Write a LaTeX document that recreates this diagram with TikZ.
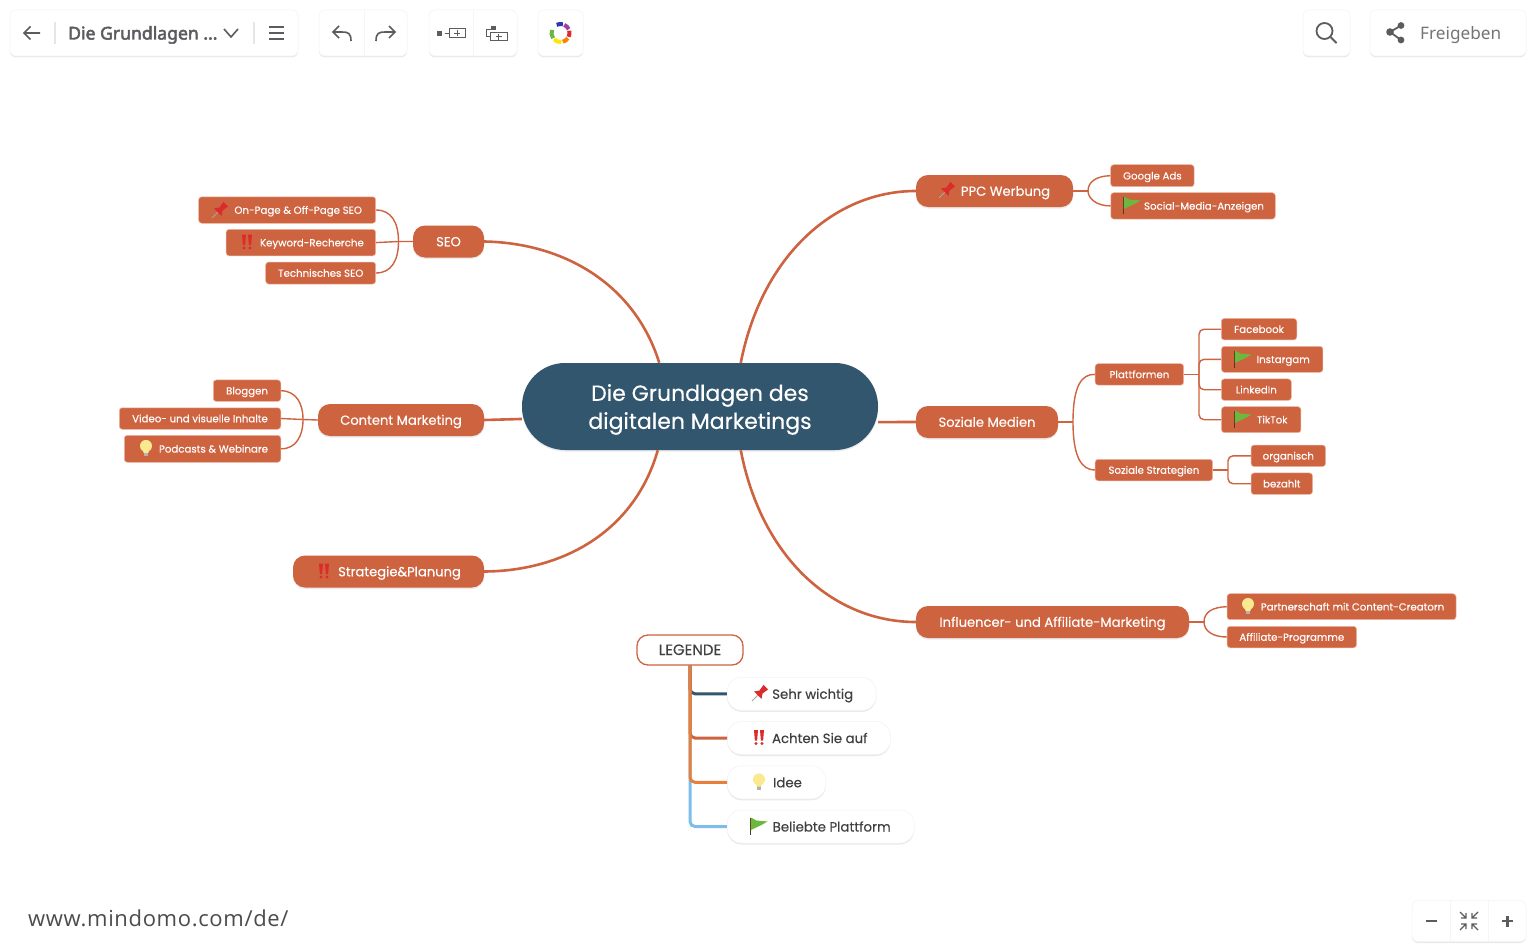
\documentclass[tikz,border=0pt]{standalone}
\usepackage{fontspec}
\usepackage{tikz}
\usetikzlibrary{shadows}
\setmainfont{Poppins}[FakeBold=0.25]
\newfontfamily\uifont{Noto Sans}
\newfontfamily\uibold{Noto Sans}[FakeBold=2.8]
\newfontfamily\urlfont{Open Sans}[LetterSpace=3]
\definecolor{hubblue}{HTML}{33566F}
\definecolor{brick}{HTML}{CE6340}
\definecolor{brickedge}{HTML}{EDB8A4}
\definecolor{legorange}{HTML}{E67F3E}
\definecolor{legblue}{HTML}{7CBDEB}
\definecolor{uigray}{HTML}{5C5C60}
\definecolor{uiline}{HTML}{E6E6E6}
\definecolor{pinred}{HTML}{DB2B2B}
\definecolor{bulbyellow}{HTML}{FBE98F}
\definecolor{flaggreen}{HTML}{6DB73F}
\newcommand{\iconsp}{\hspace*{22pt}}
\tikzset{
  softshadow/.style={drop shadow={opacity=.16, shadow xshift=0pt, shadow yshift=-1.5pt}},
  hub/.style={fill=hubblue, text=white, rounded corners=43pt, softshadow, align=center, text depth=0pt,
    minimum width=356pt, minimum height=87pt, inner sep=0pt, font=\fontsize{22}{28}\selectfont},
  topic/.style={fill=brick, text=white, rounded corners=12pt, softshadow, inner sep=0pt, text height=9.5pt, text depth=0pt,
    minimum height=32pt, font=\fontsize{13.1}{15}\selectfont},
  leaf/.style={fill=brick, draw=brickedge, line width=.5pt, text=white, rounded corners=3pt, text height=7.5pt, text depth=0pt,
    inner sep=0pt, font=\fontsize{10.2}{12}\selectfont},
  legendhead/.style={fill=white, draw=brick, line width=1.3pt, text=black!75, rounded corners=11pt, text height=10pt, text depth=0pt,
    inner sep=0pt, minimum width=106pt, minimum height=30pt, font=\fontsize{15}{17}\selectfont},
  legenditem/.style={fill=white, draw=black!5, line width=.5pt, text=black!75, rounded corners=14pt, softshadow, inner sep=0pt,
    text height=10pt, text depth=0pt, minimum height=33pt, font=\fontsize{13.3}{15}\selectfont},
  uibox/.style={fill=white, draw=black!5, line width=.5pt, rounded corners=6pt, inner sep=0pt, softshadow},
  mainline/.style={draw=brick, line width=2.6pt},
  subline/.style={draw=brick, line width=1.4pt},
  uistroke/.style={draw=uigray, line width=1.6pt},
  pinicon/.pic={
    \draw [gray!70, line width=.8pt] (-8,8) -- (-1,1);
    \fill [pinred] (-6,-1.5) -- (-.5,-2.5) -- (2,-6) -- (3.5,-8) -- (8,-3.5) -- (6,-2)
      -- (2.5,.5) -- (1.5,6) -- cycle;
  },
  bangicon/.pic={
    \fill [pinred] (-5,-7.5) -- (-1,-7.5) -- (-1.9,3.2) -- (-4.1,3.2) -- cycle;
    \fill [pinred] (-3,6) circle [radius = 1.6];
    \fill [pinred] (1,-7.5) -- (5,-7.5) -- (4.1,3.2) -- (1.9,3.2) -- cycle;
    \fill [pinred] (3,6) circle [radius = 1.6];
  },
  bulbicon/.pic={
    \fill [gray!60] (-2.3,3) rectangle (2.3,7.5);
    \fill [bulbyellow] (0,-2.6) circle [radius = 6];
    \fill [bulbyellow] (-3.5,1) -- (3.5,1) -- (2.3,4.5) -- (-2.3,4.5) -- cycle;
  },
  flagicon/.pic={
    \draw [black!55!brown, line width=.8pt] (-8,-8.5) -- (-8,8.5);
    \fill [flaggreen] (-7.6,-8.5) -- (-2,-5.5) -- (9,-4.5) -- (3,-1) -- (-7.6,4) -- cycle;
  }
}
\begin{document}
\begin{tikzpicture}[x=1pt,y=-1pt]
\useasboundingbox [fill=white] (0,0) rectangle (1536,950);

\node [hub] (center) at (700,406.5) {Die Grundlagen des\\digitalen Marketings};

\node [topic, minimum width=71pt] (seo) at (448.5,241.5) {SEO};
\node [topic, minimum width=166pt] (content) at (401,420) {Content Marketing};
\node [topic, minimum width=191pt] (strategie) at (388.5,571.5) {\iconsp Strategie\&Planung};
\node [topic, minimum width=157pt] (ppc) at (994.5,191) {\iconsp PPC Werbung};
\node [topic, minimum width=142pt] (sozial) at (987,422) {Soziale Medien};
\node [topic, minimum width=273pt] (influencer) at (1052.5,622) {Influencer- und Affiliate-Marketing};

\node [leaf, minimum width=177pt, minimum height=26.5pt] (onpage) at (287.2,210) {\iconsp On-Page \& Off-Page SEO};
\node [leaf, minimum width=149.5pt, minimum height=26.5pt] (keyword) at (300.9,242.6) {\iconsp Keyword-Recherche};
\node [leaf, minimum width=110pt, minimum height=22pt] (technisch) at (320.7,273) {Technisches SEO};
\node [leaf, minimum width=67.5pt, minimum height=21.5pt] (bloggen) at (247,390.7) {Bloggen};
\node [leaf, minimum width=161.5pt, minimum height=21.5pt] (video) at (200,418.5) {Video- und visuelle Inhalte};
\node [leaf, minimum width=156.5pt, minimum height=27pt] (podcast) at (202.5,448.8) {\iconsp Podcasts \& Webinare};

\node [leaf, minimum width=83.5pt, minimum height=22pt] (google) at (1152.4,175.7) {Google Ads};
\node [leaf, minimum width=164.5pt, minimum height=26.5pt] (social) at (1193,205.9) {\iconsp Social-Media-Anzeigen};

\node [leaf, minimum width=88.5pt, minimum height=21.5pt] (plattform) at (1139.4,374.4) {Plattformen};
\node [leaf, minimum width=117.5pt, minimum height=21.5pt] (strat) at (1153.9,470) {Soziale Strategien};
\node [leaf, minimum width=75.5pt, minimum height=21.5pt] (facebook) at (1259,329.2) {Facebook};
\node [leaf, minimum width=101.5pt, minimum height=26pt] (instagram) at (1272.2,359.3) {\iconsp Instargam};
\node [leaf, minimum width=70pt, minimum height=21.5pt] (linkedin) at (1256.3,389.7) {LinkedIn};
\node [leaf, minimum width=79.5pt, minimum height=26pt] (tiktok) at (1261.2,419.7) {\iconsp TikTok};
\node [leaf, minimum width=74.5pt, minimum height=21.5pt] (organisch) at (1288.3,455.8) {organisch};
\node [leaf, minimum width=61.5pt, minimum height=21.5pt] (bezahlt) at (1281.8,483.7) {bezahlt};

\node [leaf, minimum width=229pt, minimum height=26pt] (partner) at (1341.5,606.7) {\iconsp Partnerschaft mit Content-Creatorn};
\node [leaf, minimum width=129.5pt, minimum height=21.5pt] (affiliate) at (1291.8,637) {Affiliate-Programme};

\node [legendhead] (legende) at (690,650) {LEGENDE};
\node [legenditem, minimum width=149pt] (sehr) at (801.7,693.8) {\iconsp Sehr wichtig};
\node [legenditem, minimum width=163pt] (achten) at (808.8,738) {\iconsp Achten Sie auf};
\node [legenditem, minimum width=98.5pt] (idee) at (776.5,782.3) {\iconsp Idee};
\node [legenditem, minimum width=187pt] (beliebt) at (820.7,826.5) {\iconsp Beliebte Plattform};

\coordinate (seofork) at (398.5,241.5);
\coordinate (contentfork) at (303,419.5);
\coordinate (ppcfork) at (1088,191);
\coordinate (sozialfork) at (1073,422);
\coordinate (plattfork) at (1199,374.4);
\coordinate (stratfork) at (1228,470);
\coordinate (influfork) at (1204,622);

\draw [mainline] (seo.east) .. controls (565,243) and (635,285) .. (center.133);
\draw [mainline] (content.east) -- (center.184);
\draw [mainline] (strategie.east) .. controls (565,571) and (635,530) .. (center.226);
\draw [mainline] (ppc.west) .. controls (835,191) and (762,255) .. (center.47);
\draw [mainline] (sozial.west) -- (center.-5);
\draw [mainline] (influencer.west) .. controls (835,622) and (762,560) .. (center.-47);

\draw [subline] (seo.west) -- (seofork) -- (keyword.east);
\draw [subline] (onpage.east) .. controls (391,210) and (398.5,222) .. (seofork) .. controls (398.5,261) and (391,273) .. (technisch.east);
\draw [subline] (content.west) -- (contentfork) -- (video.east);
\draw [subline] (bloggen.east) .. controls (296,391) and (303,403) .. (contentfork) .. controls (303,436) and (296,449) .. (podcast.east);
\draw [subline] (ppc.east) -- (ppcfork);
\draw [subline] (google.west) .. controls (1096,176) and (1088,182) .. (ppcfork) .. controls (1088,198) and (1096,206) .. (social.west);
\draw [subline] (sozial.east) -- (sozialfork);
\draw [subline] (plattform.west) .. controls (1082,374) and (1073,385) .. (sozialfork) .. controls (1073,458) and (1082,470) .. (strat.west);
\draw [subline] (plattform.east) -- (plattfork);
\draw [subline, rounded corners=5pt] (plattfork) |- (facebook.west);
\draw [subline, rounded corners=5pt] (plattfork) |- (instagram.west);
\draw [subline, rounded corners=5pt] (plattfork) |- (linkedin.west);
\draw [subline, rounded corners=5pt] (plattfork) |- (tiktok.west);
\draw [subline] (strat.east) -- (stratfork);
\draw [subline, rounded corners=5pt] (stratfork) |- (organisch.west);
\draw [subline, rounded corners=5pt] (stratfork) |- (bezahlt.west);
\draw [subline] (influencer.east) -- (influfork);
\draw [subline] (partner.west) .. controls (1213,607) and (1204,612) .. (influfork) .. controls (1204,631) and (1213,637) .. (affiliate.west);

\draw [draw=legblue, line width=3pt, rounded corners=5pt] (legende.south) |- (beliebt.west);
\draw [draw=hubblue, line width=3pt, rounded corners=5pt] (legende.south) |- (sehr.west);
\draw [draw=brick, line width=3pt, rounded corners=5pt] (legende.south) |- (achten.west);
\draw [draw=legorange, line width=3pt, rounded corners=5pt] (legende.south) |- (idee.west);

\pic at (220,210) {pinicon};
\pic at (247,242) {bangicon};
\pic at (146,448.5) {bulbicon};
\pic at (947,190) {pinicon};
\pic at (324,571) {bangicon};
\pic at (1131.5,205) {flagicon};
\pic at (1242.5,359) {flagicon};
\pic at (1242.5,419) {flagicon};
\pic at (1248,606.5) {bulbicon};
\pic at (760,693) {pinicon};
\pic at (759,737.5) {bangicon};
\pic at (759,782) {bulbicon};
\pic at (758.5,826) {flagicon};

\node [uibox, minimum width=288pt, minimum height=46pt] (titlebar) at (154,33) {};
\node [uibox, minimum width=88pt, minimum height=46pt] (undobar) at (363,33) {};
\node [uibox, minimum width=88pt, minimum height=46pt] (addbar) at (473,33) {};
\node [uibox, minimum width=45pt, minimum height=46pt] (colorbar) at (560.5,33) {};
\node [uibox, minimum width=47pt, minimum height=46pt] (searchbar) at (1326.5,33) {};
\node [uibox, minimum width=156pt, minimum height=46pt] (sharebar) at (1448,33) {};
\node [uibox, minimum width=114pt, minimum height=41pt] (zoombar) at (1469,921) {};

\node [text=uigray, font=\uibold\fontsize{17.6}{20}\selectfont, anchor=west, inner sep=0pt, text height=13pt, text depth=0pt] (title) at (68,33) {Die Grundlagen ...};
\node [text=uigray!85, font=\uifont\fontsize{17.2}{20}\selectfont, anchor=west, inner sep=0pt, text height=13pt, text depth=0pt] (freigeben) at (1420,33) {Freigeben};
\node [text=black!70, font=\urlfont\fontsize{22}{26}\selectfont, anchor=west, inner sep=0pt] (url) at (28,918) {www.mindomo.com/de/};

\draw [uistroke] (40,33) -- (24,33) (30.5,26.5) -- (24,33) -- (30.5,39.5);
\draw [uiline, line width=1.2pt] (55,22) -- (55,44) (254,22) -- (254,44);
\draw [uistroke] (224,29) -- (231,37) -- (238,29);
\draw [uistroke] (269,27) -- (284,27) (269,33) -- (284,33) (269,39) -- (284,39);
\draw [black!4, line width=.7pt] (364,11) -- (364,55) (473,11) -- (473,55);
\draw [uistroke] (351,41) .. controls (351,33) and (348,32) .. (342,32) -- (333,32) (339,26) -- (333,32) -- (339,38);
\draw [uistroke] (376,41) .. controls (376,33) and (379,32) .. (385,32) -- (395,32) (389,26) -- (395,32) -- (389,38);
\fill [uigray] (437,31) rectangle (442,36);
\draw [uigray, line width=1pt] (445,33.5) -- (449,33.5) (449,28.5) rectangle (465,38);
\draw [uigray, line width=1pt] (454,33.5) -- (460,33.5) (457,30.5) -- (457,36.5);
\fill [uigray] (491,26) rectangle (496,30.5);
\draw [uigray, line width=1pt] (493,30) -- (486,30) -- (486,37) -- (490,37) (490,33) rectangle (507,41);
\draw [uigray, line width=1pt] (495.5,37) -- (501.5,37) (498.5,34) -- (498.5,40);
\draw [line width=4pt, blue!60!black!80] (560.5,33) ++(-115:9) arc (-115:-75:9);
\draw [line width=4pt, violet!75] (560.5,33) ++(-65:9) arc (-65:-25:9);
\draw [line width=4pt, pinred] (560.5,33) ++(-15:9) arc (-15:25:9);
\draw [line width=4pt, orange] (560.5,33) ++(35:9) arc (35:75:9);
\draw [line width=4pt, yellow!90!orange] (560.5,33) ++(85:9) arc (85:135:9);
\draw [line width=4pt, flaggreen] (560.5,33) ++(145:9) arc (145:200:9);
\draw [uistroke, line width=1.8pt] (1324.5,31) circle [radius = 8];
\draw [uistroke, line width=1.8pt] (1330.5,37) -- (1336.5,43);
\fill [uigray] (1390,32) circle [radius = 3.8];
\fill [uigray] (1401,25.5) circle [radius = 3.4];
\fill [uigray] (1401,40) circle [radius = 3.4];
\draw [uistroke, line width=1.8pt] (1401,25.5) -- (1390,32) -- (1401,40);
\draw [black!4, line width=.7pt] (1450,901) -- (1450,941) (1488,901) -- (1488,941);
\draw [uigray, line width=2.2pt] (1426,921) -- (1437,921) (1502,921) -- (1513,921) (1507.5,915.5) -- (1507.5,926.5);
\draw [uigray, line width=1.2pt] (1460,912) -- (1466,918) (1466,913) -- (1466,918) -- (1461,918);
\draw [uigray, line width=1.2pt] (1478,912) -- (1472,918) (1472,913) -- (1472,918) -- (1477,918);
\draw [uigray, line width=1.2pt] (1460,930) -- (1466,924) (1466,929) -- (1466,924) -- (1461,924);
\draw [uigray, line width=1.2pt] (1478,930) -- (1472,924) (1472,929) -- (1472,924) -- (1477,924);
\end{tikzpicture}
\end{document}
